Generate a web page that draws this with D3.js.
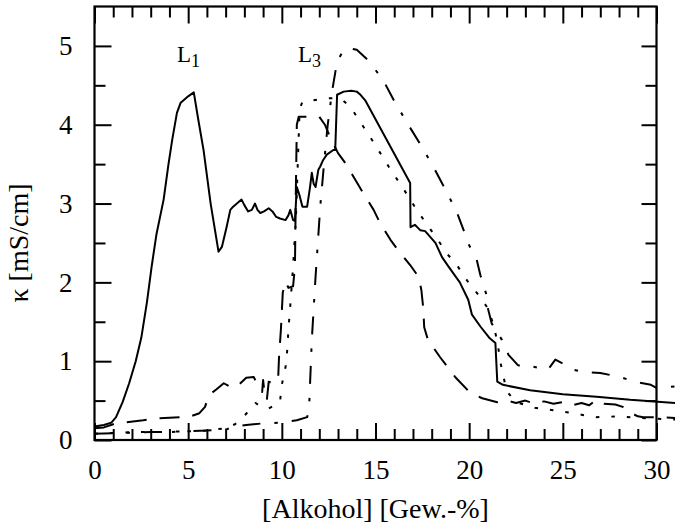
<!DOCTYPE html>
<html>
<head>
<meta charset="utf-8">
<script src="https://cdn.jsdelivr.net/npm/d3@7"></script>
<style>
  body { margin: 0; background: #fff; }
  svg { display: block; font-family: "Liberation Serif", "Times New Roman", serif; }
</style>
</head>
<body>
<div id="chart"></div>
<script>
// Leitfähigkeit vs. Alkoholgehalt, four measurement series
const solidSeries = [[0,0.17],[0.5,0.19],[0.9,0.22],[1.15,0.29],[1.5,0.48],[1.85,0.72],[2.2,1.0],[2.5,1.3],[2.8,1.75],[3.05,2.2],[3.3,2.6],[3.69,3.05],[3.95,3.5],[4.15,3.81],[4.4,4.15],[4.6,4.28],[5.0,4.36],[5.3,4.41],[5.55,4.05],[5.82,3.68],[6.2,3.0],[6.62,2.39],[6.8,2.45],[7.05,2.7],[7.25,2.92],[7.4,2.96],[7.6,3.0],[7.85,3.05],[8.0,2.98],[8.2,2.9],[8.4,2.92],[8.57,3.0],[8.7,2.92],[8.85,2.88],[9.05,2.9],[9.3,2.94],[9.5,2.9],[9.7,2.83],[9.9,2.81],[10.2,2.79],[10.35,2.85],[10.45,2.92],[10.6,2.79],[10.7,2.78],[10.8,3.21],[10.95,3.1],[11.1,2.96],[11.35,2.96],[11.5,3.2],[11.6,3.39],[11.7,3.25],[11.8,3.21],[11.95,3.43],[12.05,3.47],[12.2,3.55],[12.4,3.62],[12.75,3.68],[12.85,3.68],[12.95,4.38],[13.3,4.42],[13.7,4.43],[14.0,4.42],[14.2,4.38],[14.45,4.31],[16.85,3.26],[16.87,2.7],[17.1,2.73],[17.4,2.66],[17.65,2.65],[18.2,2.5],[18.55,2.32],[18.9,2.2],[19.5,2.0],[19.95,1.78],[20.15,1.59],[20.6,1.44],[21.1,1.29],[21.4,1.23],[21.5,0.74],[21.8,0.7],[23.25,0.63],[25.0,0.58],[26.8,0.55],[28.6,0.51],[31,0.47]];

const dashedSeries = [[0,0.15],[0.5,0.16],[1.0,0.2],[1.5,0.22],[2.6,0.25],[3.1,0.27],[4.6,0.29],[5.0,0.29],[5.6,0.34],[5.9,0.42],[6.1,0.57],[6.5,0.64],[6.9,0.72],[7.35,0.66],[7.7,0.7],[8.1,0.79],[8.5,0.8],[8.7,0.7],[8.95,0.61],[9.0,0.76],[9.1,0.55],[9.2,0.51],[9.3,0.74],[9.6,0.72],[9.8,0.76],[9.85,1.05],[9.95,1.4],[10.05,1.87],[10.2,2.01],[10.35,1.93],[10.6,1.95],[10.7,2.2],[10.75,3.2],[10.8,4.0],[10.9,4.1],[11.4,4.1],[12.0,4.1],[12.3,4.0],[12.6,3.83],[13.0,3.64],[13.4,3.51],[14.0,3.27],[14.35,3.13],[14.9,2.92],[15.25,2.75],[15.8,2.54],[16.2,2.41],[16.85,2.22],[17.3,2.07],[17.45,1.9],[17.55,1.67],[17.6,1.43],[17.8,1.27],[18.45,1.05],[19.25,0.8],[20.05,0.6],[20.7,0.53],[21.5,0.48],[22,0.5],[22.5,0.47],[23,0.5],[23.5,0.46],[24,0.49],[24.5,0.46],[25,0.48],[25.5,0.44],[26,0.47],[26.4,0.44],[26.8,0.51],[27.2,0.46],[27.8,0.45],[28.2,0.42],[28.6,0.35],[29.0,0.3],[29.3,0.29],[30,0.29],[31,0.28]];

const dottedSeries = [[0,0.08],[2,0.1],[4,0.1],[6,0.12],[7,0.15],[7.5,0.2],[8.05,0.32],[8.6,0.47],[8.9,0.42],[9.3,0.4],[9.6,0.44],[9.9,0.48],[10.0,0.7],[10.2,0.93],[10.3,1.17],[10.35,1.4],[10.45,1.7],[10.6,2.2],[10.75,2.8],[10.85,3.5],[10.95,4.2],[11.1,4.29],[12.2,4.33],[12.9,4.34],[13.2,4.32],[13.65,4.23],[14.2,4.03],[14.7,3.85],[15.15,3.68],[15.7,3.47],[16.2,3.29],[16.7,3.11],[17.2,2.92],[17.7,2.75],[18.3,2.55],[18.8,2.37],[19.4,2.2],[19.9,2.02],[20.5,1.84],[21.0,1.67],[21.3,1.46],[21.5,1.25],[21.7,0.95],[22.0,0.62],[22.5,0.48],[23.5,0.41],[24.4,0.38],[25.3,0.35],[26.0,0.32],[26.8,0.29],[28,0.3],[29,0.28],[30,0.27],[31,0.26]];

const dashDotSeries = [[0,0.08],[1.5,0.09],[3,0.1],[5,0.11],[6,0.12],[7.1,0.14],[7.5,0.17],[8.1,0.19],[8.95,0.21],[10,0.22],[10.8,0.25],[11.35,0.29],[11.45,0.38],[11.6,1.27],[11.8,2.07],[12.05,2.96],[12.25,3.5],[12.45,4.0],[12.7,4.45],[12.95,4.8],[13.3,4.95],[13.6,4.97],[14.0,4.95],[14.6,4.82],[15.4,4.57],[16.0,4.3],[16.75,4.0],[17.4,3.75],[18.1,3.46],[18.75,3.17],[19.36,2.88],[19.8,2.6],[20.0,2.47],[20.4,2.29],[20.6,2.09],[20.9,1.86],[21.0,1.67],[21.2,1.48],[21.75,1.27],[22.1,1.08],[22.6,0.95],[23.0,0.92],[23.4,0.93],[24.2,0.89],[24.6,1.02],[25.0,0.97],[25.4,0.9],[26.2,0.86],[27,0.85],[28.05,0.8],[28.8,0.74],[29.7,0.7],[30,0.66],[31,0.68]];

const xMajorTicks = [0, 5, 10, 15, 20, 25, 30];
const xMinorTicks = d3.range(1, 30).filter(v => v % 5 !== 0);
const yMajorTicks = [0, 1, 2, 3, 4, 5];
const yMinorTicks = [0.5, 1.5, 2.5, 3.5, 4.5];
const peakLabels = [{name: "L", sub: "1", x: 177, y: 62}, {name: "L", sub: "3", x: 298, y: 62}];

const width = 675, height = 528;
const svg = d3.select("#chart").append("svg")
    .attr("width", width)
    .attr("height", height);

const x = d3.scaleLinear().domain([0, 30]).range([94.5, 656.5]);
const y = d3.scaleLinear().domain([0, 5.5]).range([440, 6.5]);

const majorLen = 17, minorLen = 11;

// bottom axis with labels
svg.append("g").attr("transform", `translate(0,${y(0)})`)
    .call(d3.axisBottom(x).tickValues(xMajorTicks).tickSizeInner(-majorLen).tickSizeOuter(0).tickPadding(20));
svg.append("g").attr("transform", `translate(0,${y(0)})`)
    .call(d3.axisBottom(x).tickValues(xMinorTicks).tickSizeInner(-minorLen).tickSizeOuter(0).tickFormat(""));
// top axis
svg.append("g").attr("transform", `translate(0,${y(5.5)})`)
    .call(d3.axisTop(x).tickValues(xMajorTicks).tickSizeInner(-majorLen).tickSizeOuter(0).tickFormat(""));
svg.append("g").attr("transform", `translate(0,${y(5.5)})`)
    .call(d3.axisTop(x).tickValues(xMinorTicks).tickSizeInner(-minorLen).tickSizeOuter(0).tickFormat(""));
// left axis with labels
svg.append("g").attr("transform", `translate(${x(0)},0)`)
    .call(d3.axisLeft(y).tickValues(yMajorTicks).tickSizeInner(-majorLen).tickSizeOuter(0).tickPadding(22).tickFormat(d3.format("d")));
svg.append("g").attr("transform", `translate(${x(0)},0)`)
    .call(d3.axisLeft(y).tickValues(yMinorTicks).tickSizeInner(-minorLen).tickSizeOuter(0).tickFormat(""));
// right axis
svg.append("g").attr("transform", `translate(${x(30)},0)`)
    .call(d3.axisRight(y).tickValues(yMajorTicks).tickSizeInner(-majorLen + 2).tickSizeOuter(0).tickFormat(""));
svg.append("g").attr("transform", `translate(${x(30)},0)`)
    .call(d3.axisRight(y).tickValues(yMinorTicks).tickSizeInner(-minorLen).tickSizeOuter(0).tickFormat(""));

svg.selectAll(".domain").remove();
svg.selectAll("g").attr("font-family", null);
svg.selectAll(".tick line").attr("stroke", "#000").attr("stroke-width", 2);
svg.selectAll(".tick text")
    .attr("fill", "#000")
    .style("font-family", "'Liberation Serif', 'Times New Roman', serif")
    .style("font-size", "27px");

// frame
svg.append("rect")
    .attr("x", x(0)).attr("y", y(5.5))
    .attr("width", x(30) - x(0)).attr("height", y(0) - y(5.5))
    .attr("fill", "none").attr("stroke", "#000").attr("stroke-width", 2.2);

const line = d3.line().x(d => x(d[0])).y(d => y(d[1]));

const curves = [
    {data: solidSeries, dash: null},
    {data: dashedSeries, dash: "20,13"},
    {data: dottedSeries, dash: "3.5,12"},
    {data: dashDotSeries, dash: "18,14,3.5,14"}
];

svg.selectAll("path.curve")
    .data(curves)
    .enter()
    .append("path")
    .attr("class", "curve")
    .attr("d", d => line(d.data))
    .attr("fill", "none")
    .attr("stroke", "#000")
    .attr("stroke-width", 2)
    .attr("stroke-linejoin", "round")
    .attr("stroke-dasharray", d => d.dash);

// peak labels
peakLabels.forEach(p => {
    const t = svg.append("text")
        .attr("x", p.x).attr("y", p.y)
        .style("font-size", "23px");
    t.append("tspan").text(p.name);
    t.append("tspan").attr("dy", 5).style("font-size", "18px").text(p.sub);
});

// axis titles
svg.append("text")
    .attr("x", (x(0) + x(30)) / 2)
    .attr("y", 518)
    .attr("text-anchor", "middle")
    .style("font-size", "28px")
    .text("[Alkohol] [Gew.-%]");

svg.append("text")
    .attr("transform", "translate(28,243) rotate(-90)")
    .attr("text-anchor", "middle")
    .style("font-size", "28px")
    .text("κ [mS/cm]");
</script>
</body>
</html>
